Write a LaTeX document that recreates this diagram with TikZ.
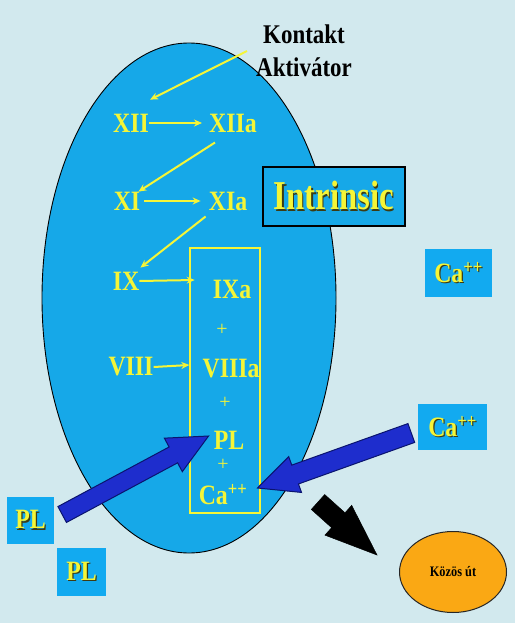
\documentclass[tikz,border=0pt]{standalone}
\usepackage{fontspec}
\setmainfont{Liberation Serif}
\usetikzlibrary{calc,arrows.meta,shapes.geometric}
\definecolor{bgc}{RGB}{210,233,238}
\definecolor{ellc}{RGB}{22,168,232}
\definecolor{boxc}{RGB}{18,170,240}
\definecolor{ylw}{RGB}{245,245,55}
\definecolor{arrb}{RGB}{30,45,205}
\definecolor{arrd}{RGB}{10,20,110}
\definecolor{orng}{RGB}{250,168,20}
\definecolor{shc}{RGB}{60,60,20}
\newcommand\nar[2][0.85]{\scalebox{#1}[1]{#2}}
\newcommand\shd[1]{\rlap{\hspace{1.5pt}\raisebox{-1.5pt}{\color{shc}#1}}#1}
\newcommand\fatarrow[6]{%
  \coordinate (fa-h) at ($(#3)!#6!(#2)$);
  \path[#1] ($(#2)!#4!90:(#3)$) -- ($(fa-h)!#4!90:(#3)$) -- ($(fa-h)!#5!90:(#3)$) -- (#3)
    -- ($(fa-h)!#5!-90:(#3)$) -- ($(fa-h)!#4!-90:(#3)$) -- ($(#2)!#4!-90:(#3)$) -- cycle;}
\tikzset{
  fac/.style={font=\fontsize{28}{30}\selectfont\bfseries, text=ylw, inner sep=0pt},
  plus/.style={font=\fontsize{20}{22}\selectfont, text=ylw, inner sep=0pt},
  lnk/.style={draw=ylw, line width=2pt, -{Stealth[length=8pt,width=7pt]}},
  smallbox/.style={fill=boxc, inner sep=0pt},
  fatblue/.style={fill=arrb, draw=arrd, line width=1pt, line join=miter},
  fatblack/.style={fill=black, draw=black, line width=0.5pt, line join=miter},
}
\begin{document}
\begin{tikzpicture}[x=1pt,y=-1pt]
\fill[bgc] (0,0) rectangle (515,623);
\useasboundingbox (0,0) rectangle (515,623);
% big ellipse
\draw[fill=ellc, line width=0.9pt] (189,298) ellipse [x radius=147pt, y radius=255pt];
% title
\node[font=\fontsize{27}{33}\selectfont\bfseries, align=center, inner sep=0pt] (ka) at (304,51) {\nar{Kontakt}\\\nar{Aktivátor}};
% Intrinsic
\node[fill=ellc, draw=black, line width=1.2pt, minimum width=142pt, minimum height=59pt, inner sep=0pt,
      font=\fontsize{41}{44}\selectfont\bfseries, text=ylw] (intr) at (334,196.5) {\nar[0.8]{\shd{Intrinsic}}};
% yellow complex box
\draw[ylw, line width=2pt] (190,248) rectangle (260,513);
% factors
\node[fac] (xii) at (131,123) {\nar{XII}};
\node[fac] (xiia) at (233,123) {\nar{XIIa}};
\node[fac] (xi) at (127,201) {\nar{XI}};
\node[fac] (xia) at (228,201) {\nar{XIa}};
\node[fac] (ix) at (126,281) {\nar{IX}};
\node[fac] (ixa) at (232,289) {\nar{IXa}};
\node[fac] (viii) at (131,367) {\nar{VIII}};
\node[fac] (viiia) at (231,369) {\nar{VIIIa}};
\node[fac] (pl) at (229,440) {\nar{PL}};
\node[fac] (ca) at (223,495) {\nar{Ca\textsuperscript{++}}};
\node[plus] (p1) at (222,330) {+};
\node[plus] (p2) at (225,403) {+};
\node[plus] (p3) at (223,465) {+};
% yellow links
\draw[lnk] ([xshift=-9pt]ka.west) -- ([shift={(1pt,14pt)}]xii.north east);
\draw[lnk] (xii.east) -- ([xshift=-7pt]xiia.west);
\draw[lnk] ([shift={(6pt,-10pt)}]xiia.south west) -- ([shift={(-2pt,0pt)}]xi.north east);
\draw[lnk] ([xshift=4pt]xi.east) -- ([xshift=-8pt]xia.west);
\draw[lnk] ([shift={(-3pt,-6pt)}]xia.south west) -- ([shift={(1pt,4pt)}]ix.north east);
\draw[lnk] (ix.east) -- ([shift={(-18pt,9pt)}]ixa.west);
\draw[lnk] (viii.east) -- ([shift={(-13pt,4pt)}]viiia.west);
% side boxes
\node[smallbox, fac, minimum width=67pt, minimum height=48pt] (ca1) at (458.5,273) {\nar{\shd{Ca\textsuperscript{++}}}};
\node[smallbox, fac, minimum width=69pt, minimum height=46pt] (ca2) at (452.5,427) {\nar{\shd{Ca\textsuperscript{++}}}};
\node[smallbox, fac, minimum width=47pt, minimum height=47pt] (pl1) at (30.5,520.5) {\nar{\shd{PL}}};
\node[smallbox, fac, minimum width=49pt, minimum height=48pt] (pl2) at (81.5,572) {\nar{\shd{PL}}};
% common pathway
\node[ellipse, fill=orng, draw=black!85, line width=1pt, minimum width=107pt, minimum height=81pt, inner sep=0pt,
      font=\fontsize{14.5}{16}\selectfont\bfseries] (kozos) at (453,572) {\nar{Közös út}};
% fat arrows
\coordinate (plt) at ([shift={(8pt,6pt)}]pl1.east);
\coordinate (pltip) at ([shift={(-5pt,4pt)}]pl.west);
\fatarrow{fatblue}{plt}{pltip}{9pt}{19pt}{40pt}
\coordinate (cat) at ([shift={(-6.5pt,-6pt)}]ca2.west);
\coordinate (catip) at ([shift={(10pt,7pt)}]ca.east);
\fatarrow{fatblue}{cat}{catip}{10pt}{19pt}{40pt}
\coordinate (bt) at (318,502);
\coordinate (btip) at ([shift={(-22pt,17pt)}]kozos.west);
\fatarrow{fatblack}{bt}{btip}{10pt}{20pt}{52pt}
\end{tikzpicture}
\end{document}
